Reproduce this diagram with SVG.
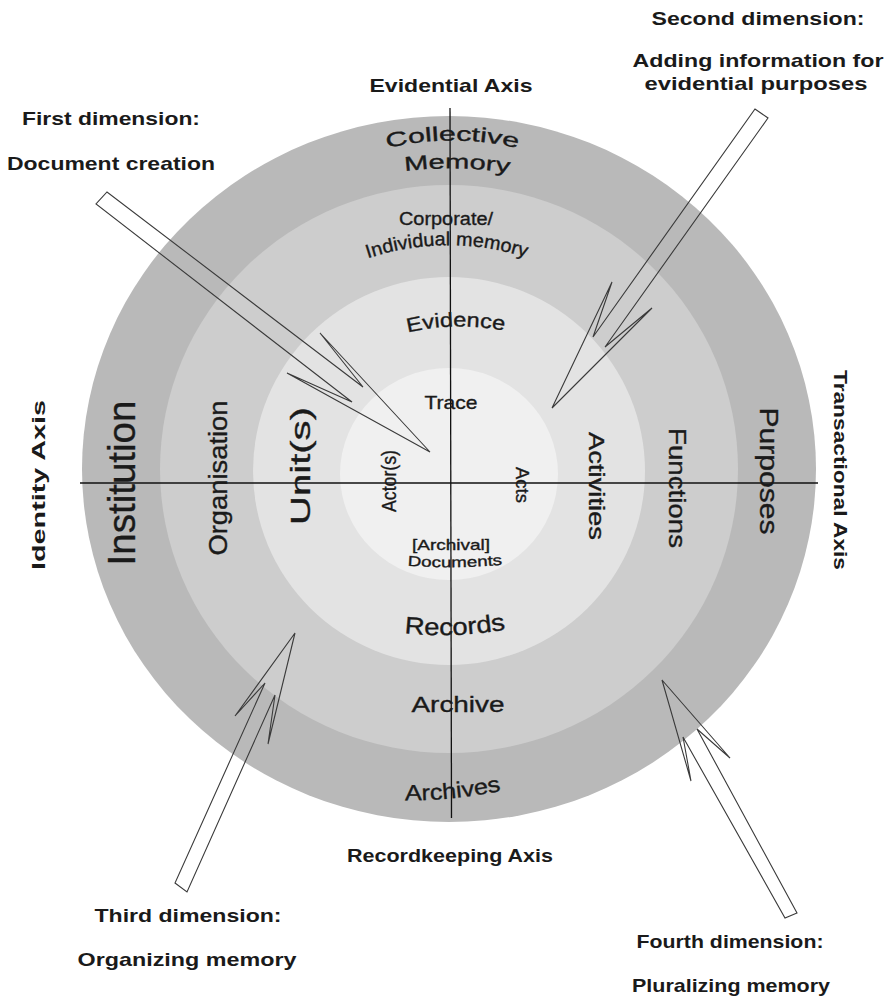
<svg xmlns="http://www.w3.org/2000/svg" width="894" height="996" viewBox="0 0 894 996">
<style>
text{font-family:"Liberation Sans",Arial,sans-serif;fill:#1a1a1a}
.r{stroke:#1a1a1a;stroke-width:0.35}
.b{font-weight:bold;font-size:19px}
.m{text-anchor:middle}
.arrow{fill:none;stroke:#3a3a3a;stroke-width:1.1;stroke-linejoin:miter}
.axis{stroke:#111;stroke-width:1.3;fill:none}
</style>
<defs>
<path id="p-collective" d="M 380 150 Q 452 131 525 150"/>
<path id="p-memory" d="M 398 172 Q 457 164 516 174"/>
<path id="p-individual" d="M 360 261 Q 447 230 534 260"/>
<path id="p-evidence" d="M 402 334 Q 456 320 510 332"/>
<path id="p-documents" d="M 400 565 Q 455 570 510 564"/>
<path id="p-records" d="M 396 632 Q 455 640 514 628"/>
<path id="p-archives" d="M 396 800 Q 453 802 510 789"/>
</defs>
<rect width="894" height="996" fill="#ffffff"/>
<g id="rings">
<ellipse cx="449" cy="469" rx="367" ry="353" fill="#b9b9b9"/>
<ellipse cx="449" cy="469" rx="289" ry="284" fill="#cdcdcd"/>
<ellipse cx="449" cy="471" rx="196" ry="194" fill="#e3e3e3"/>
<ellipse cx="449" cy="474" rx="109" ry="106" fill="#f0f0f0"/>
</g>
<g id="axes">
<line class="axis" x1="80" y1="483" x2="818" y2="483"/>
<line class="axis" x1="450" y1="108" x2="451.5" y2="818"/>
</g>
<g id="ring-labels" class="r">
<text class="r" font-size="20"><textPath href="#p-collective" startOffset="50%" text-anchor="middle" textLength="132" lengthAdjust="spacingAndGlyphs">Collective</textPath></text>
<text class="r" font-size="20"><textPath href="#p-memory" startOffset="50%" text-anchor="middle" textLength="105" lengthAdjust="spacingAndGlyphs">Memory</textPath></text>
<text class="m r" x="446" y="225" font-size="18" textLength="94" lengthAdjust="spacingAndGlyphs">Corporate/</text>
<text class="r" font-size="19"><textPath href="#p-individual" startOffset="50%" text-anchor="middle" textLength="161" lengthAdjust="spacingAndGlyphs">Individual memory</textPath></text>
<text class="r" font-size="20"><textPath href="#p-evidence" startOffset="50%" text-anchor="middle" textLength="97" lengthAdjust="spacingAndGlyphs">Evidence</textPath></text>
<text class="m r" x="451" y="409" font-size="19" textLength="53" lengthAdjust="spacingAndGlyphs">Trace</text>
<text class="m r" x="451" y="550" font-size="14.5" textLength="78" lengthAdjust="spacingAndGlyphs">[Archival]</text>
<text class="r" font-size="14.5"><textPath href="#p-documents" startOffset="50%" text-anchor="middle" textLength="95" lengthAdjust="spacingAndGlyphs">Documents</textPath></text>
<text class="r" font-size="24"><textPath href="#p-records" startOffset="50%" text-anchor="middle" textLength="102" lengthAdjust="spacingAndGlyphs">Records</textPath></text>
<text class="m r" x="458" y="712" font-size="22" textLength="93" lengthAdjust="spacingAndGlyphs">Archive</text>
<text class="r" font-size="22"><textPath href="#p-archives" startOffset="50%" text-anchor="middle" textLength="97" lengthAdjust="spacingAndGlyphs">Archives</textPath></text>
<text class="m r" transform="translate(135 483) rotate(-90)" font-size="38" textLength="165" lengthAdjust="spacingAndGlyphs">Institution</text>
<text class="m r" transform="translate(227 478) rotate(-90)" font-size="25" textLength="155" lengthAdjust="spacingAndGlyphs">Organisation</text>
<text class="m r" transform="translate(310 466) rotate(-90)" font-size="28" textLength="118" lengthAdjust="spacingAndGlyphs">Unit(s)</text>
<text class="m r" transform="translate(396 481) rotate(-90)" font-size="20" textLength="62" lengthAdjust="spacingAndGlyphs">Actor(s)</text>
<text class="m r" transform="translate(516 485) rotate(90)" font-size="18" textLength="36" lengthAdjust="spacingAndGlyphs">Acts</text>
<text class="m r" transform="translate(589 486) rotate(90)" font-size="22" textLength="108" lengthAdjust="spacingAndGlyphs">Activities</text>
<text class="m r" transform="translate(669 488) rotate(90)" font-size="24" textLength="120" lengthAdjust="spacingAndGlyphs">Functions</text>
<text class="m r" transform="translate(760 471) rotate(90)" font-size="26" textLength="127" lengthAdjust="spacingAndGlyphs">Purposes</text>
</g>
<g id="axis-labels">
<text class="b m" x="451" y="92" textLength="163" lengthAdjust="spacingAndGlyphs">Evidential Axis</text>
<text class="b m" x="450" y="862" textLength="206" lengthAdjust="spacingAndGlyphs">Recordkeeping Axis</text>
<text class="b m" transform="translate(45 485) rotate(-90)" textLength="170" lengthAdjust="spacingAndGlyphs">Identity Axis</text>
<text class="b m" transform="translate(834 470) rotate(90)" textLength="200" lengthAdjust="spacingAndGlyphs">Transactional Axis</text>
</g>
<g id="dimension-labels">
<text class="b m" x="111" y="125" textLength="178" lengthAdjust="spacingAndGlyphs">First dimension:</text>
<text class="b m" x="111" y="170" textLength="208" lengthAdjust="spacingAndGlyphs">Document creation</text>
<text class="b m" x="758" y="25" textLength="213" lengthAdjust="spacingAndGlyphs">Second dimension:</text>
<text class="b m" x="758" y="67" textLength="251" lengthAdjust="spacingAndGlyphs">Adding information for</text>
<text class="b m" x="756" y="90" textLength="223" lengthAdjust="spacingAndGlyphs">evidential purposes</text>
<text class="b m" x="188" y="922" textLength="187" lengthAdjust="spacingAndGlyphs">Third dimension:</text>
<text class="b m" x="187" y="966" textLength="219" lengthAdjust="spacingAndGlyphs">Organizing memory</text>
<text class="b m" x="730" y="948" textLength="187" lengthAdjust="spacingAndGlyphs">Fourth dimension:</text>
<text class="b m" x="731" y="992" textLength="198" lengthAdjust="spacingAndGlyphs">Pluralizing memory</text>
</g>
<g id="connectors">
<polygon id="arrow-first" class="arrow" points="430,452 320,333 363,387 107,192 96,204 352,402 287,373"/>
<polygon id="arrow-second" class="arrow" points="552,408 612,282 593,337 755,109 768,118 605,347 652,308"/>
<polygon id="arrow-third" class="arrow" points="295,633 235,716 265,683 175,883 187,892 275,695 268,744"/>
<polygon id="arrow-fourth" class="arrow" points="662,680 730,758 697,729 797,913 785,918 683,737 691,781"/>
</g>
</svg>
